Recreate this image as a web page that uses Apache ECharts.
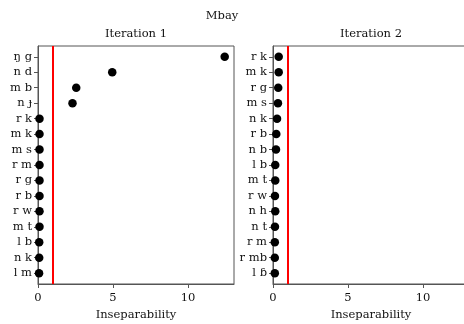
<!DOCTYPE html>
<html><head><meta charset="utf-8">
<script src="https://cdn.jsdelivr.net/npm/echarts@6/dist/echarts.min.js"></script>
<style>html,body{margin:0;padding:0;background:#fff}#c{width:464px;height:324px}</style>
</head><body><div id="c"></div>
<script>
const suptitle = "Mbay";
const titles = ["Iteration 1", "Iteration 2"];
const xLabel = "Inseparability";
const threshold = 1;
const xTicks = [0, 5, 10];
const cats1 = ["ŋ g","n d","m b","n ɟ","r k","m k","m s","r m","r g","r b","r w","m t","l b","n k","l m"];
const vals1 = [12.45, 4.95, 2.55, 2.3, 0.1, 0.1, 0.1, 0.1, 0.1, 0.1, 0.1, 0.1, 0.08, 0.08, 0.07];
const cats2 = ["r k","m k","r g","m s","n k","r b","n b","l b","m t","r w","n h","n t","r m","r mb","l ɓ"];
const vals2 = [0.38, 0.38, 0.35, 0.33, 0.27, 0.22, 0.2, 0.15, 0.15, 0.13, 0.15, 0.13, 0.12, 0.12, 0.12];

const FONT = "DejaVu Serif";
const FS = 11.5;
const TXT = "#111";
const AX = "#555";
const chart = echarts.init(document.getElementById('c'), null, {renderer: 'canvas'});
const grids = [
  {left: 38, top: 46, width: 196, height: 238},
  {left: 273, top: 46, width: 196, height: 238}
];
const cats = [cats1, cats2];
const vals = [vals1, vals2];
const xMax = 13.07;
function xAxisFor(i) {
  return {
    type: 'value', gridIndex: i, min: 0, max: xMax, position: 'bottom',
    name: xLabel, nameLocation: 'middle', nameGap: 25,
    nameTextStyle: {fontFamily: FONT, fontSize: FS, color: TXT},
    axisLine: {show: true, onZero: false, lineStyle: {color: AX, width: 1}},
    axisTick: {show: true, length: 4, customValues: xTicks, lineStyle: {color: AX}},
    axisLabel: {customValues: xTicks, fontFamily: FONT, fontSize: FS, color: TXT, margin: 8},
    splitLine: {show: false}
  };
}
function yAxisFor(i) {
  const n = cats[i].length;
  const pad = 0.05 * (n - 1);
  const idx = cats[i].map((_, k) => k);
  return {
    type: 'value', gridIndex: i, inverse: true, min: -pad, max: n - 1 + pad,
    axisLine: {show: true, onZero: false, lineStyle: {color: AX, width: 1}},
    axisTick: {show: true, length: 4, customValues: idx, lineStyle: {color: AX}},
    axisLabel: {customValues: idx, formatter: v => cats[i][Math.round(v)], fontFamily: FONT, fontSize: FS, color: TXT, margin: 6},
    splitLine: {show: false}
  };
}
const series = [0, 1].map(i => ({
  type: 'scatter', xAxisIndex: i, yAxisIndex: i,
  data: vals[i].map((v, k) => [v, k]),
  symbolSize: 8.5, itemStyle: {color: '#000', opacity: 1},
  z: 3,
  markLine: {
    silent: true, symbol: 'none', label: {show: false},
    lineStyle: {color: '#ff0000', width: 2, type: 'solid'},
    data: [{xAxis: threshold}], animation: false
  }
}));
chart.setOption({
  animation: false,
  backgroundColor: '#fff',
  grid: grids.map(g => Object.assign({show: true, borderColor: AX, borderWidth: 1, containLabel: false, outerBoundsMode: 'none'}, g)),
  xAxis: [xAxisFor(0), xAxisFor(1)],
  yAxis: [yAxisFor(0), yAxisFor(1)],
  series: series,
  graphic: [
    {type: 'text', style: {x: 222, y: 16, text: suptitle, font: FS + 'px "' + FONT + '"', fill: TXT, textAlign: 'center', textVerticalAlign: 'middle'}},
    {type: 'text', style: {x: grids[0].left + grids[0].width / 2, y: 34, text: titles[0], font: FS + 'px "' + FONT + '"', fill: TXT, textAlign: 'center', textVerticalAlign: 'middle'}},
    {type: 'text', style: {x: grids[1].left + grids[1].width / 2, y: 34, text: titles[1], font: FS + 'px "' + FONT + '"', fill: TXT, textAlign: 'center', textVerticalAlign: 'middle'}}
  ]
});
</script></body></html>
